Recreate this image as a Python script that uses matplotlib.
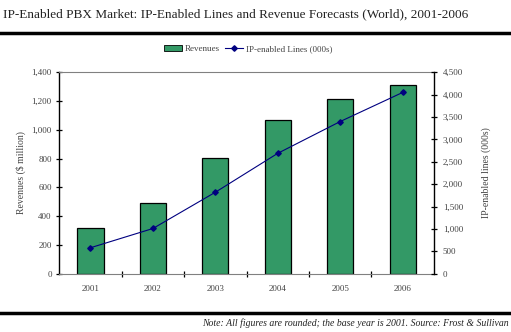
import matplotlib.pyplot as plt
import numpy as np
from matplotlib.lines import Line2D

plt.rcParams["font.family"] = ["Liberation Serif", "DejaVu Serif"]

years = ["2001", "2002", "2003", "2004", "2005", "2006"]
revenues = [315, 489, 802, 1066, 1214, 1309]
ip_lines = [580, 1010, 1820, 2690, 3400, 4050]

bar_color = "#339966"
line_color = "#000080"
txt_color = "#444444"

fig = plt.figure(figsize=(5.11, 3.32), dpi=100)
ax = fig.add_axes([0.116, 0.1756, 0.733, 0.6066])
x = np.arange(len(years))

ax.bar(x, revenues, width=0.42, color=bar_color, edgecolor="black", linewidth=0.9, zorder=2)
ax.set_xlim(-0.5, len(years) - 0.5)
ax.set_ylim(0, 1400)
ax.set_yticks(range(0, 1401, 200))
ax.set_yticklabels([f"{v:,}" for v in range(0, 1401, 200)], fontsize=6.5, color=txt_color)
ax.set_xticks(x)
ax.set_xticklabels(years, fontsize=6.5, color=txt_color)
ax.set_xticks(np.arange(0.5, len(years) - 0.5, 1), minor=True)
ax.tick_params(axis="x", which="major", length=0, pad=8)
ax.tick_params(axis="x", which="minor", direction="inout", length=5, width=0.9, color="black")
ax.tick_params(axis="y", direction="inout", length=5, width=0.9, pad=3)
ax.set_ylabel("Revenues ($ million)", fontsize=7, color=txt_color, labelpad=4)

ax.spines["left"].set_color("black")
ax.spines["left"].set_linewidth(1.0)
ax.spines["top"].set_color("#808080")
ax.spines["bottom"].set_color("#808080")
ax.spines["right"].set_visible(False)

ax2 = ax.twinx()
ax2.plot(x, ip_lines, color=line_color, linewidth=0.8, marker="D", markersize=2.8, zorder=3)
ax2.set_ylim(0, 4500)
ax2.set_yticks(range(0, 4501, 500))
ax2.set_yticklabels([f"{v:,}" for v in range(0, 4501, 500)], fontsize=6.5, color=txt_color)
ax2.tick_params(axis="y", direction="inout", length=5, width=0.9, pad=4)
ax2.set_ylabel("IP-enabled lines (000s)", fontsize=7, color=txt_color, labelpad=13)
for s in ["left", "top", "bottom"]:
    ax2.spines[s].set_visible(False)
ax2.spines["right"].set_color("black")
ax2.spines["right"].set_linewidth(1.0)

# legend
handles = [plt.Rectangle((0, 0), 1, 1, facecolor=bar_color, edgecolor="black", linewidth=0.6),
           Line2D([0], [0], color=line_color, marker="D", markersize=2.8, linewidth=0.8)]
fig.legend(handles, ["Revenues", "IP-enabled Lines (000s)"], loc="center",
           bbox_to_anchor=(0.485, 0.853), ncol=2, frameon=False, fontsize=6.5,
           handlelength=2.0, handletextpad=0.3, columnspacing=0.6, labelcolor=txt_color)

# title, rules and note
fig.text(0.006, 0.957, "IP-Enabled PBX Market: IP-Enabled Lines and Revenue Forecasts (World), 2001-2006",
         fontsize=9.5, color="#222222", va="center", ha="left")
fig.add_artist(Line2D([0, 1], [0.9, 0.9], color="black", linewidth=2.5, transform=fig.transFigure))
fig.add_artist(Line2D([0, 1], [0.057, 0.057], color="black", linewidth=2.5, transform=fig.transFigure))
fig.text(0.996, 0.026, "Note: All figures are rounded; the base year is 2001. Source: Frost & Sullivan",
         fontsize=7, style="italic", color="#222222", va="center", ha="right")

plt.savefig("out.png", dpi=100)
